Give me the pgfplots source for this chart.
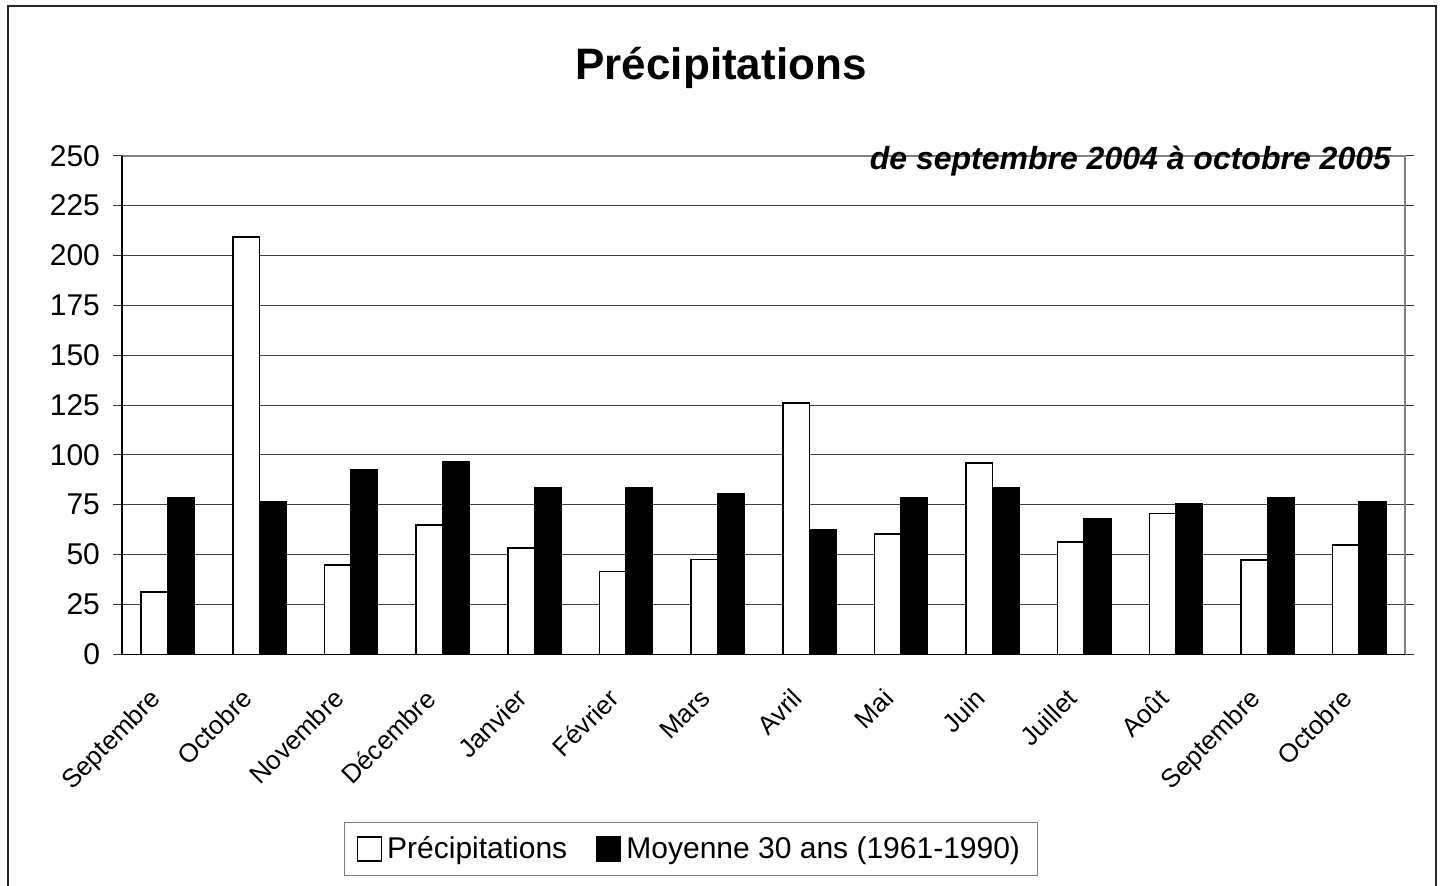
\documentclass[border=0pt]{standalone}
\usepackage{pgfplots}
\pgfplotsset{compat=1.18}
\usepackage{fontspec}
\setmainfont{Liberation Sans}
\begin{document}
\begin{tikzpicture}
\useasboundingbox (0,0) rectangle (722pt,442.5pt);
% outer frame (open at bottom, as in the reference)
\draw[line width=0.6pt, black!85] (4pt,-2pt) -- (4pt,439.5pt) -- (718pt,439.5pt) -- (718pt,-2pt);
\node[anchor=base, font=\bfseries\fontsize{22}{26}\selectfont] at (360.5pt,402.5pt) {Précipitations};
\begin{axis}[
  at={(61pt,115.35pt)}, anchor=south west,
  width=641.5pt, height=249.3pt, scale only axis,
  xmin=-0.5, xmax=13.5, ymin=0, ymax=250,
  ytick={0,25,...,250},
  xtick={0,...,13},
  xticklabels={Septembre,Octobre,Novembre,Décembre,Janvier,Février,Mars,Avril,Mai,Juin,Juillet,Août,Septembre,Octobre},
  xtick style={draw=none},
  extra x ticks={-0.5,0.5,...,13.5},
  extra x tick labels={},
  extra x tick style={major tick length=4.5pt, tick style={draw=black!80, line width=0.5pt}, grid=none},
  tick align=outside,
  major tick length=4.5pt,
  ytick style={draw=black!80, line width=0.5pt},
  ymajorgrids,
  grid style={black!75, line width=0.5pt},
  axis line style={draw=gray, line width=0.8pt},
  /pgf/number format/assume math mode=true,
  yticklabel style={font=\fontsize{15}{18}\selectfont, xshift=-3pt},
  xticklabel style={font=\fontsize{13}{16}\selectfont, xshift=-9.5pt, yshift=-7pt, rotate=45, anchor=north east},
  ybar, bar width=0.29,
  legend columns=2,
  legend style={at={(0.4435,-0.3905)}, anchor=center, draw=gray, line width=0.5pt,
    font=\fontsize{15}{18}\selectfont, inner xsep=6pt, inner ysep=5pt,
    nodes={inner xsep=2.5pt},
    /tikz/every even column/.append style={column sep=12pt}},
  legend image code/.code={\draw[#1, line width=0.6pt] (0pt,-6pt) rectangle (12pt,6pt);},
  clip=false,
]
\addplot[fill=white, draw=black, line width=0.8pt, bar shift=-0.145] coordinates {
(0,31.2) (1,209.3) (2,44.8) (3,64.8) (4,53.2) (5,41.6) (6,47.6)
(7,125.9) (8,60.3) (9,95.8) (10,56.2) (11,70.7) (12,47.3) (13,54.8)};
\addplot[fill=black, draw=black, line width=0.8pt, bar shift=0.145] coordinates {
(0,78.5) (1,76.5) (2,92.4) (3,96.4) (4,83.4) (5,83.4) (6,80.7)
(7,62.3) (8,78.5) (9,83.4) (10,67.7) (11,75.4) (12,78.5) (13,76.5)};
\legend{Précipitations,Moyenne 30 ans (1961-1990)}
\draw[black, line width=0.8pt] (rel axis cs:0,1) -- (rel axis cs:0,0) -- (rel axis cs:1,0);
\end{axis}
\node[anchor=base east, font=\bfseries\itshape\fontsize{16}{19}\selectfont] at (699pt,357.5pt) {de septembre 2004 à octobre 2005};
\end{tikzpicture}
\end{document}
